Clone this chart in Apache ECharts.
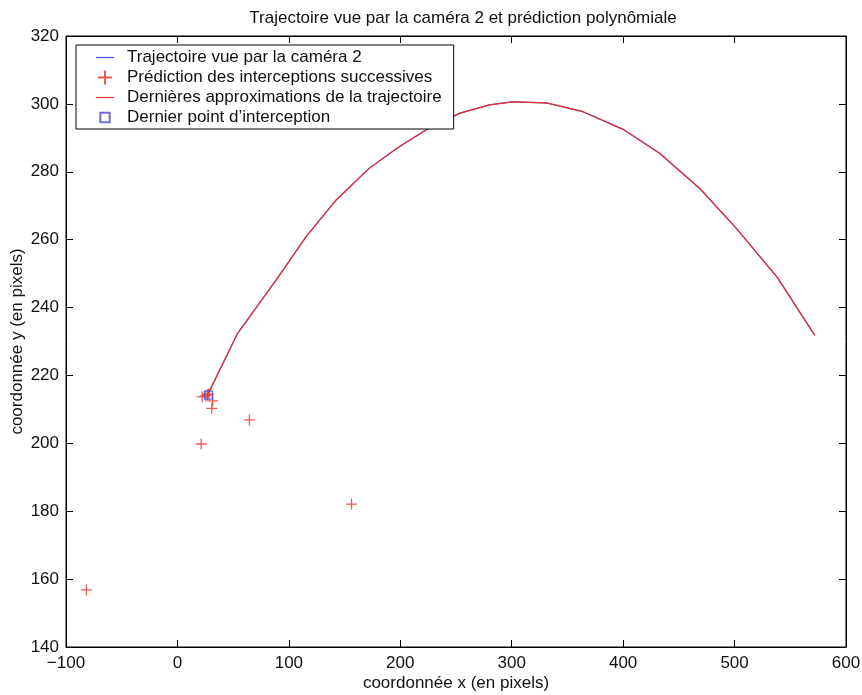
<!DOCTYPE html>
<html>
<head>
<meta charset="utf-8">
<script src="https://cdn.jsdelivr.net/npm/echarts@6/dist/echarts.min.js"></script>
<style>
  html, body { margin: 0; padding: 0; background: #fff; }
  #chart { width: 862px; height: 695px; }
</style>
</head>
<body>
<div id="chart"></div>
<script>
// Trajectory of the ball as seen by camera 2 (image coordinates, pixels)
const trajX = [27, 54, 88.5, 115.5, 142.5, 172, 199, 223, 253, 280, 300.5, 331, 364, 400, 433, 469, 502, 538.5, 572];
const trajY = [214.2, 232.4, 248.1, 260.9, 271.7, 281.0, 287.4, 292.3, 297.2, 299.7, 300.6, 300.3, 297.7, 292.5, 285.4, 275.0, 263.2, 248.8, 231.8];

// Latest polynomial approximation of the trajectory
const fitX = [27, 54, 88.5, 115.5, 142.5, 172, 199, 223, 253, 280, 300.5, 331, 364, 400, 433, 469, 502, 538.5, 572];
const fitY = [214.2, 232.4, 248.1, 260.9, 271.7, 281.0, 287.4, 292.3, 297.2, 299.7, 300.6, 300.3, 297.7, 292.5, 285.4, 275.0, 263.2, 248.8, 231.8];

// Successive predicted interception points
const predX = [-81.7, 156.2, 21.3, 64.6, 30.8, 31.7, 22.2, 28.1, 25.5, 27.0];
const predY = [156.8, 182.1, 199.8, 206.9, 210.3, 212.5, 213.7, 214.5, 214.0, 214.3];

// Final interception point
const lastX = [27.8];
const lastY = [214.2];

const pairs = (xs, ys) => xs.map((x, i) => [x, ys[i]]);

const FONT = '"Liberation Sans", Arial, sans-serif';
const RED = '#e8302a';
const BLUE = '#4a4ad8';
const plus = 'path://M0,5 L10,5 M5,0 L5,10';
// legend icons: empty move-to points pin the icon box so the shape keeps its size
const lineIcon = 'path://M0,0 L0,0 M0,6.4 L18,6.4 L18,7.6 L0,7.6 Z M18,14 L18,14';
const squareIcon = 'path://M-2.5,-2.5 L-2.5,-2.5 M12.5,12.5 L12.5,12.5 M0,0 L10,0 L10,10 L0,10 Z';

const chart = echarts.init(document.getElementById('chart'), null, { renderer: 'canvas' });

const axisLine = { show: true, onZero: false, lineStyle: { color: '#000', width: 1 } };
const tickIn = { show: true, inside: true, length: 7, lineStyle: { color: '#000' } };
const minus = v => String(v).replace('-', '\u2212');

chart.setOption({
  animation: false,
  backgroundColor: '#fff',
  title: {
    text: 'Trajectoire vue par la caméra 2 et prédiction polynômiale',
    left: 458, textAlign: 'center', top: 5,
    textStyle: { fontFamily: FONT, fontSize: 17, fontWeight: 'normal', color: '#111' }
  },
  grid: {
    left: 66, right: 16, top: 36, bottom: 48, outerBoundsMode: 'none',
    show: true, borderColor: '#000', borderWidth: 1
  },
  legend: {
    orient: 'vertical', left: 76, top: 45,
    backgroundColor: '#fff', borderColor: '#000', borderWidth: 1,
    padding: [4, 12, 3, 20],
    itemWidth: 18, itemHeight: 14, itemGap: 3,
    textStyle: { fontFamily: FONT, fontSize: 17, lineHeight: 17, color: '#111', padding: [0, 0, 0, 8] },
    data: [
      { name: 'Trajectoire vue par la caméra 2', icon: lineIcon,
        itemStyle: { color: BLUE, borderWidth: 0 } },
      { name: 'Prédiction des interceptions successives' },
      { name: 'Dernières approximations de la trajectoire', icon: lineIcon,
        itemStyle: { color: RED, borderWidth: 0 } },
      { name: 'Dernier point d\u2019interception', icon: squareIcon }
    ]
  },
  xAxis: [{
    type: 'value', min: -100, max: 600, interval: 100,
    axisLine, axisTick: tickIn, splitLine: { show: false },
    axisLabel: { fontFamily: FONT, fontSize: 17, color: '#111', margin: 8, formatter: minus },
    name: 'coordonnée x (en pixels)', nameLocation: 'middle', nameGap: 28, nameMoveOverlap: false,
    nameTextStyle: { fontFamily: FONT, fontSize: 17, color: '#111' }
  }, {
    type: 'value', position: 'top', min: -100, max: 600, interval: 100,
    axisLine, axisTick: tickIn, axisLabel: { show: false }, splitLine: { show: false }
  }],
  yAxis: [{
    type: 'value', min: 140, max: 320, interval: 20,
    axisLine, axisTick: tickIn, splitLine: { show: false },
    axisLabel: { fontFamily: FONT, fontSize: 17, color: '#111', margin: 7, formatter: minus },
    name: 'coordonnée y (en pixels)', nameLocation: 'middle', nameGap: 40, nameMoveOverlap: false,
    nameTextStyle: { fontFamily: FONT, fontSize: 17, color: '#111' }
  }, {
    type: 'value', position: 'right', min: 140, max: 320, interval: 20,
    axisLine, axisTick: tickIn, axisLabel: { show: false }, splitLine: { show: false }
  }],
  series: [
    {
      name: 'Trajectoire vue par la caméra 2', type: 'line',
      data: pairs(trajX, trajY), symbol: 'none',
      lineStyle: { color: BLUE, width: 1.2 }, itemStyle: { color: BLUE }, z: 2
    },
    {
      name: 'Prédiction des interceptions successives', type: 'scatter',
      data: pairs(predX, predY), symbol: plus, symbolSize: 11,
      itemStyle: { color: 'rgba(0,0,0,0)', borderColor: RED, borderWidth: 1.3 }, z: 4
    },
    {
      name: 'Dernières approximations de la trajectoire', type: 'line',
      data: pairs(fitX, fitY), symbol: 'none',
      lineStyle: { color: RED, width: 1.2 }, itemStyle: { color: RED }, z: 3
    },
    {
      name: 'Dernier point d\u2019interception', type: 'scatter',
      data: pairs(lastX, lastY), symbol: 'rect', symbolSize: 8,
      itemStyle: { color: 'rgba(0,0,0,0)', borderColor: BLUE, borderWidth: 1.2 }, z: 5
    }
  ]
});
</script>
</body>
</html>
